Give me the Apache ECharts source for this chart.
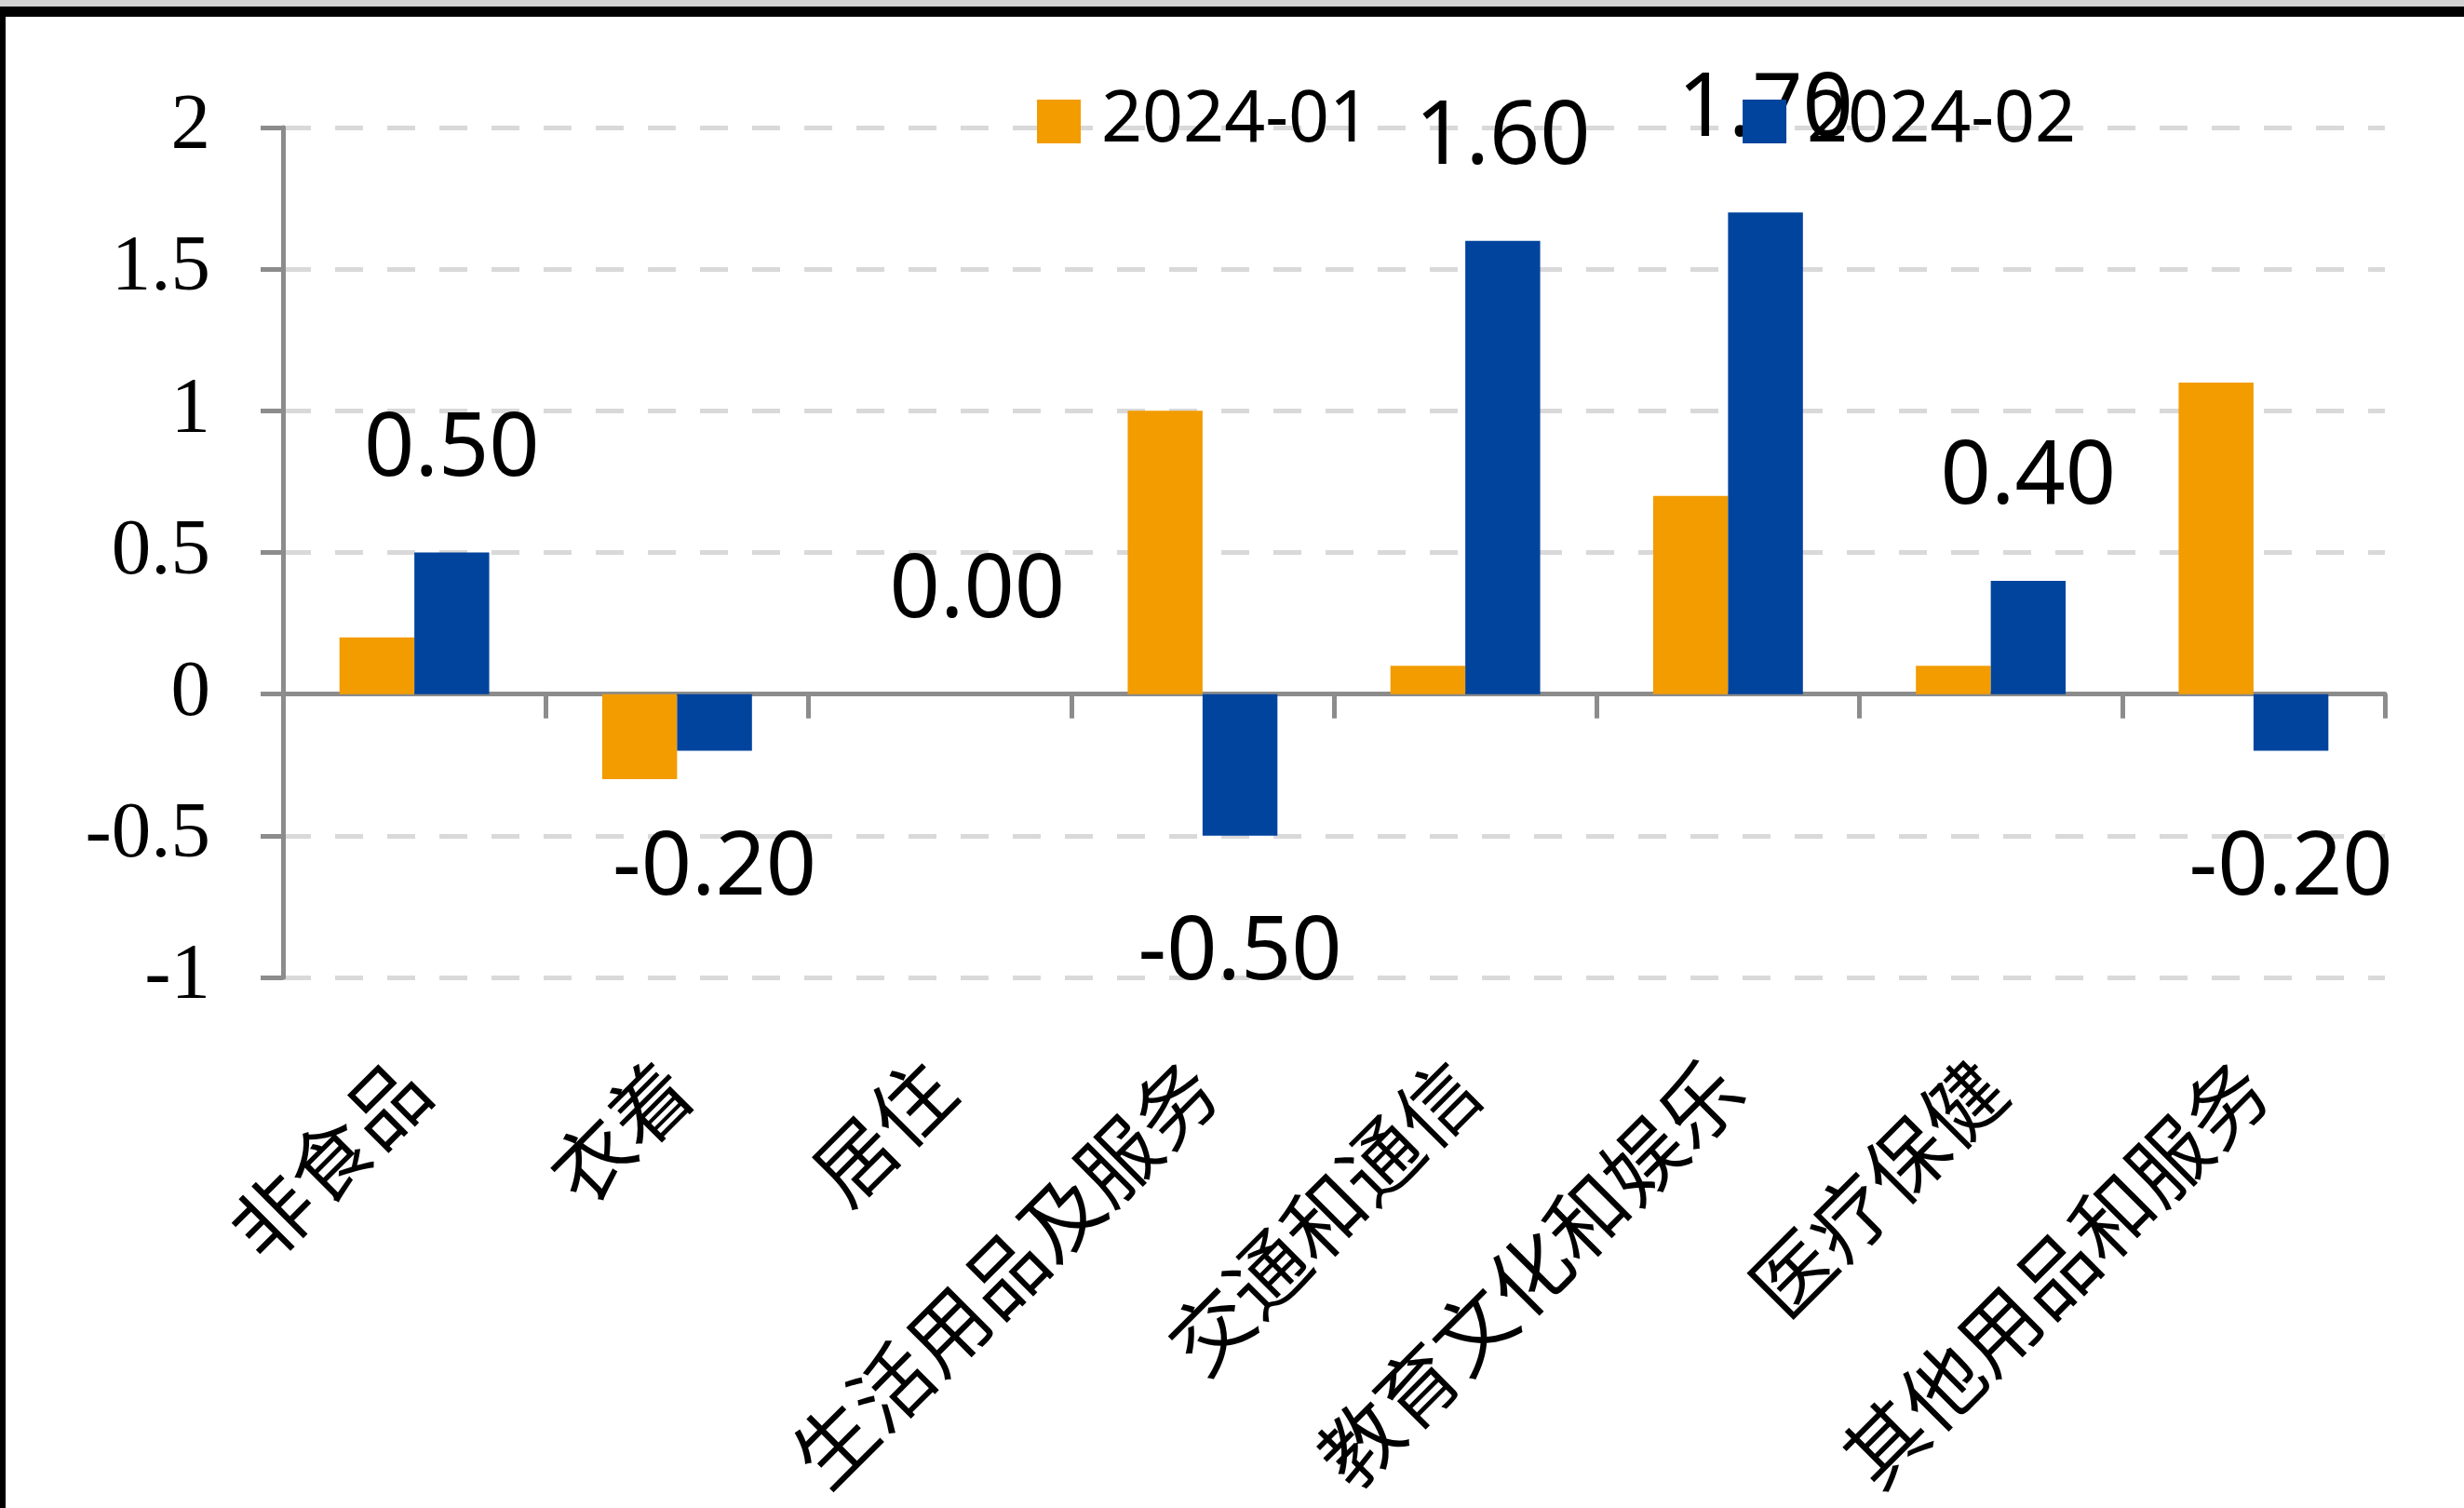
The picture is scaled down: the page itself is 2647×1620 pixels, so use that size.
<!DOCTYPE html>
<html>
<head>
<meta charset="utf-8">
<script src="https://cdn.jsdelivr.net/npm/echarts@6/dist/echarts.min.js"></script>
<style>
  html, body { margin: 0; padding: 0; background: #ffffff; }
  #chart { width: 2647px; height: 1620px; }
</style>
</head>
<body>
<div id="chart"></div>
<script>
// CPI non-food components, month-on-month change (%)
const categories = ['非食品', '衣着', '居住', '生活用品及服务', '交通和通信', '教育文化和娱乐', '医疗保健', '其他用品和服务'];
const seriesNames = ['2024-01', '2024-02'];
const jan2024 = [0.2, -0.3, 0.0, 1.0, 0.1, 0.7, 0.1, 1.1];
const feb2024 = [0.5, -0.2, 0.0, -0.5, 1.6, 1.7, 0.4, -0.2];
const yMin = -1, yMax = 2, yStep = 0.5;

const ORANGE = '#F29C00';
const BLUE = '#00449E';
const AXIS_GREY = '#8C8C8C';

const chart = echarts.init(document.getElementById('chart'), null, { renderer: 'canvas' });

// Only the February series carries value labels; negative bars get them underneath
const febData = feb2024.map(v => ({
  value: v,
  label: v < 0
    ? { position: 'bottom', distance: 80 }
    : { position: 'top', distance: 62 }
}));

chart.setOption({
  backgroundColor: '#ffffff',
  animation: false,
  grid: { left: 304, right: 85, top: 137, bottom: 570, containLabel: false, outerBoundsMode: 'none' },
  legend: {
    data: seriesNames,
    left: 1109,
    top: 87,
    itemWidth: 47,
    itemHeight: 47,
    itemGap: 400,
    icon: 'rect',
    textStyle: { fontFamily: 'Noto Sans', fontSize: 77, color: '#000000', padding: [0, 0, 0, 17] }
  },
  xAxis: {
    type: 'category',
    data: categories,
    axisLine: { onZero: true, lineStyle: { color: AXIS_GREY, width: 5 } },
    axisTick: { show: true, length: 26, lineStyle: { color: AXIS_GREY, width: 5 } },
    axisLabel: {
      rotate: 45,
      margin: 105,
      fontFamily: 'Noto Sans CJK SC',
      fontSize: 86,
      color: '#000000',
      interval: 0
    },
    splitLine: { show: false }
  },
  yAxis: {
    type: 'value',
    min: yMin,
    max: yMax,
    interval: yStep,
    axisLine: { show: true, lineStyle: { color: AXIS_GREY, width: 5 } },
    axisTick: { show: true, length: 24, lineStyle: { color: AXIS_GREY, width: 5 } },
    axisLabel: {
      margin: 78,
      fontFamily: 'Liberation Serif',
      fontSize: 85,
      color: '#000000'
    },
    splitLine: { show: true, lineStyle: { color: '#D9D9D9', width: 5, type: [30, 26] } }
  },
  series: [
    {
      name: seriesNames[0],
      type: 'bar',
      data: jan2024,
      barGap: '0%',
      barCategoryGap: '43%',
      itemStyle: { color: ORANGE },
      label: { show: false }
    },
    {
      name: seriesNames[1],
      type: 'bar',
      data: febData,
      barGap: '0%',
      barCategoryGap: '43%',
      itemStyle: { color: BLUE },
      label: {
        show: true,
        fontFamily: 'Noto Sans',
        fontSize: 95,
        color: '#000000',
        formatter: p => p.value.toFixed(2)
      }
    }
  ],
  graphic: [
    { type: 'rect', shape: { x: 0, y: 0, width: 2647, height: 7 }, style: { fill: '#D0D0D0' }, silent: true },
    { type: 'rect', shape: { x: 0, y: 7, width: 2647, height: 11 }, style: { fill: '#000000' }, silent: true },
    { type: 'rect', shape: { x: 0, y: 7, width: 6, height: 1613 }, style: { fill: '#000000' }, silent: true }
  ]
});
</script>
</body>
</html>
